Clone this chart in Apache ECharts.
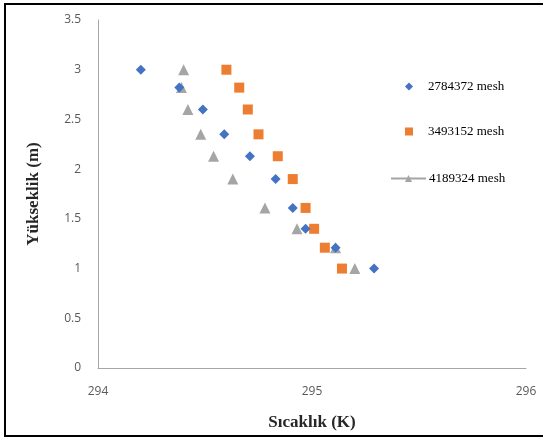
<!DOCTYPE html>
<html>
<head>
    <meta charset="utf-8">
    <script src="https://cdn.jsdelivr.net/npm/echarts@6/dist/echarts.min.js"></script>
    <style>
        body { margin: 0; background: #fff; }
        #frame { position: absolute; left: 4px; top: 3px; width: 545px; height: 430px;
                 border-left: 2px solid #000; border-top: 2px solid #000; border-bottom: 2px solid #000; }
    </style>
</head>
<body>
    <div id="frame"></div>
    <div id="main" style="position:absolute;left:0;top:0;width:543px;height:437px;"></div>
    <script type="text/javascript">

    // heights (m), shared by all three meshes
    var heights = [3, 2.82, 2.6, 2.35, 2.13, 1.9, 1.61, 1.4, 1.21, 1.0];

    // temperatures (K) per mesh
    var temp2784372 = [294.20, 294.38, 294.49, 294.59, 294.71, 294.83, 294.91, 294.97, 295.11, 295.29];
    var temp3493152 = [294.60, 294.66, 294.70, 294.75, 294.84, 294.91, 294.97, 295.01, 295.06, 295.14];
    var temp4189324 = [294.40, 294.39, 294.42, 294.48, 294.54, 294.63, 294.78, 294.93, 295.11, 295.20];

    var seriesNames = ['2784372 mesh', '3493152 mesh', '4189324 mesh'];
    var xTicks = [294, 295, 296];
    var yTicks = [0, 0.5, 1, 1.5, 2, 2.5, 3, 3.5];

    function pairs(xs) {
        return xs.map(function (x, i) { return [x, heights[i]]; });
    }

    var myChart = echarts.init(document.getElementById('main'));

    var axisLabelStyle = {
        color: '#595959',
        fontFamily: 'Open Sans',
        fontSize: 12
    };

    var legendText = {
        fontFamily: 'Liberation Serif',
        fontSize: 13,
        color: '#000'
    };

    // one legend per entry so each icon can have its own box
    function markerLegend(name, icon, top, size) {
        return {
            left: 409 - size / 2,
            top: top,
            padding: 0,
            itemWidth: size,
            itemHeight: size,
            itemGap: 0,
            icon: icon,
            textStyle: Object.assign({ padding: [0, 0, 0, 19 - size / 2 - 5] }, legendText),
            data: [name]
        };
    }

    myChart.setOption({
        animation: false,
        grid: {
            left: 98,
            right: 17,
            top: 20,
            bottom: 69
        },
        legend: [
            markerLegend(seriesNames[0], 'diamond', 80, 8),
            markerLegend(seriesNames[1], 'rect', 125, 8),
            {
                left: 390,
                top: 172,
                padding: 0,
                itemWidth: 35,
                itemHeight: 9,
                textStyle: Object.assign({ padding: [0, 0, 0, -2] }, legendText),
                data: [{
                    name: seriesNames[2],
                    lineStyle: { width: 2, opacity: 1, color: '#a5a5a5' }
                }]
            }
        ],
        xAxis: {
            type: 'value',
            min: 294,
            max: 296,
            interval: 1,
            name: 'Sıcaklık (K)',
            nameLocation: 'middle',
            nameGap: 46,
            nameTextStyle: {
                fontFamily: 'Liberation Serif',
                fontWeight: 'bold',
                fontSize: 17,
                color: '#262626'
            },
            axisLine: { onZero: false, lineStyle: { color: '#a6a6a6', width: 1 } },
            axisTick: { show: false },
            splitLine: { show: false },
            axisLabel: Object.assign({ margin: 18 }, axisLabelStyle)
        },
        yAxis: {
            type: 'value',
            min: 0,
            max: 3.5,
            interval: 0.5,
            name: 'Yükseklik (m)',
            nameLocation: 'middle',
            nameGap: 56,
            nameTextStyle: {
                fontFamily: 'Liberation Serif',
                fontWeight: 'bold',
                fontSize: 17,
                color: '#262626'
            },
            axisLine: { show: true, onZero: false, lineStyle: { color: '#a6a6a6', width: 1 } },
            axisTick: { show: false },
            splitLine: { show: false },
            axisLabel: Object.assign({ margin: 17 }, axisLabelStyle)
        },
        series: [
            {
                name: seriesNames[0],
                type: 'scatter',
                symbol: 'diamond',
                symbolSize: 10,
                itemStyle: { color: '#4472c4', opacity: 1 },
                data: pairs(temp2784372),
                z: 4
            },
            {
                name: seriesNames[1],
                type: 'scatter',
                symbol: 'rect',
                symbolSize: 10,
                itemStyle: { color: '#ed7d31', opacity: 1 },
                data: pairs(temp3493152),
                z: 3
            },
            {
                name: seriesNames[2],
                type: 'line',
                symbol: 'triangle',
                symbolSize: 11,
                showSymbol: true,
                lineStyle: { width: 0, opacity: 0 },
                itemStyle: { color: '#a5a5a5' },
                data: pairs(temp4189324),
                z: 2
            }
        ]
    });
    </script>
</body>
</html>
